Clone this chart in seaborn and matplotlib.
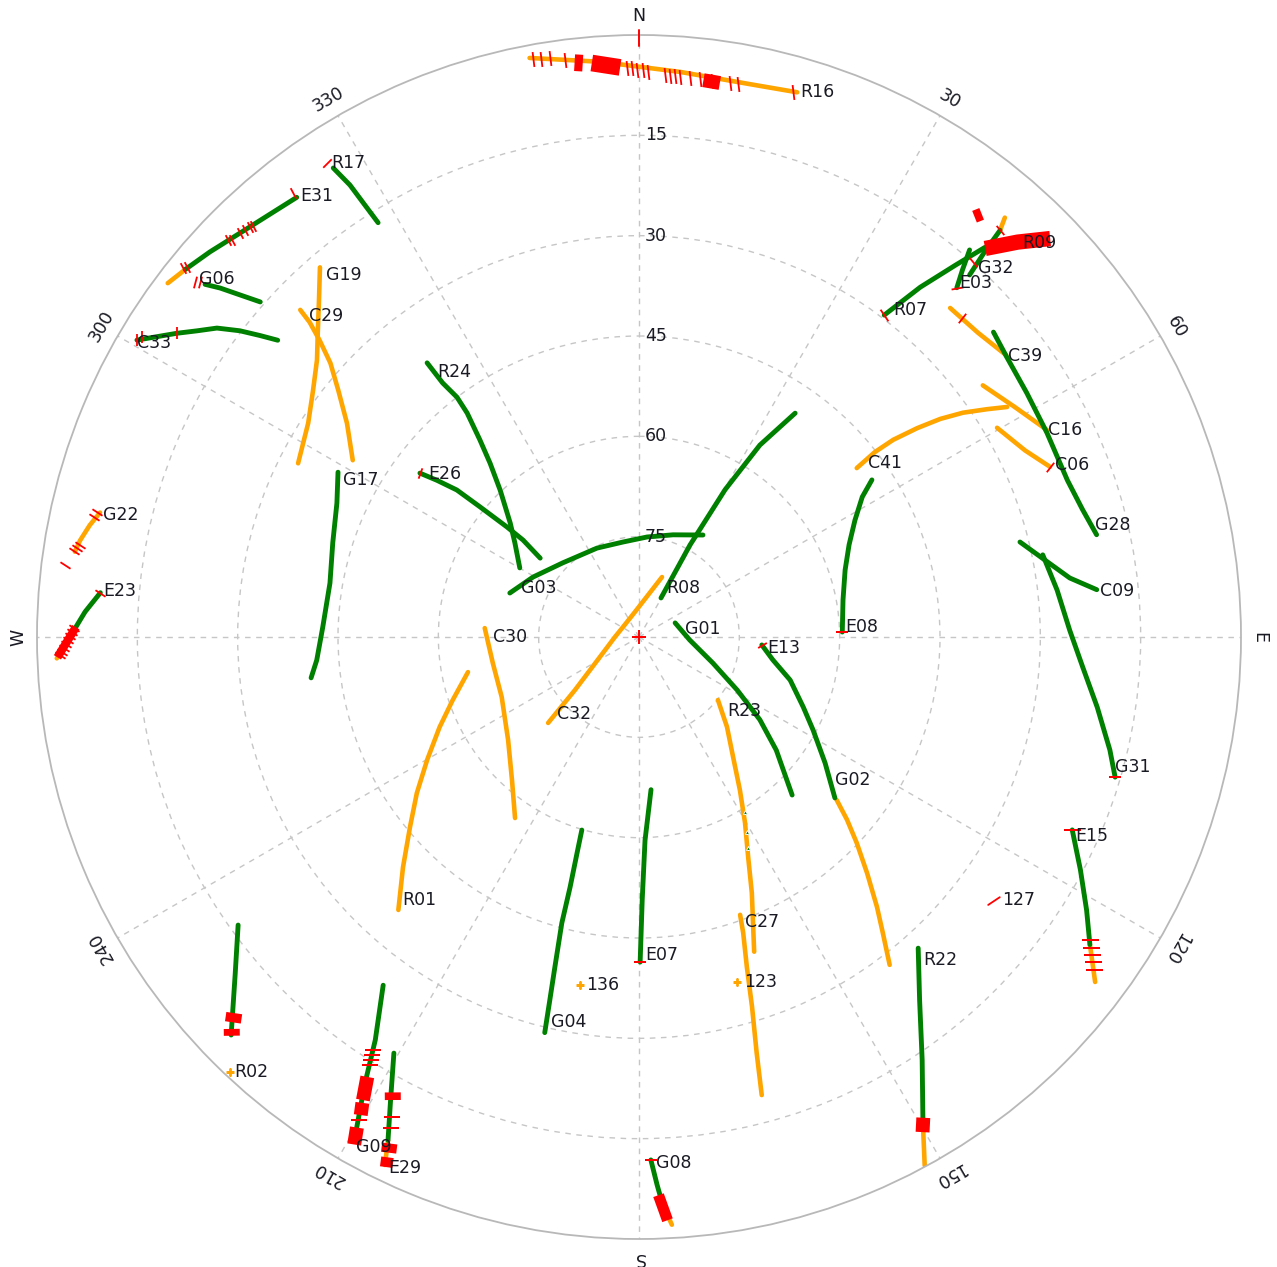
import numpy as np
import pandas as pd
import matplotlib
matplotlib.use("Agg")
import matplotlib.pyplot as plt
from matplotlib.markers import MarkerStyle
from matplotlib.transforms import Affine2D
import seaborn as sns

# ---------------------------------------------------------------------------
# Satellite tracks: azimuth in degrees (clockwise from north, may run past
# 360 or below 0 so a track stays continuous) and elevation in degrees.
# ---------------------------------------------------------------------------

# -- tracked continuously (green) --
R07_AZ = [37.3, 38.8, 40.4, 41.6]
R07_EL = [29.5, 22.9, 17.0, 12.1]
E03_AZ = [42.3, 41.4, 40.5]
E03_EL = [19.4, 16.9, 13.9]
G32_AZ = [42.4, 41.9, 41.6]
G32_EL = [16.7, 12.6, 8.7]
G28_AZ = [49.3, 52.7, 57.8, 63.4, 69.9, 74.0, 77.4]
G28_EL = [20.1, 20.9, 21.5, 21.8, 21.8, 21.0, 19.9]
C09_AZ = [76.0, 79.3, 82.2, 84.1]
C09_EL = [31.3, 28.2, 25.0, 21.2]
G31_AZ = [78.5, 83.6, 89.1, 93.9, 98.7, 103.5, 106.4]
G31_EL = [28.4, 27.1, 25.6, 23.5, 20.7, 17.6, 15.8]
E08_AZ = [56.0, 57.9, 61.6, 66.3, 72.0, 79.7, 88.6]
E08_EL = [48.0, 50.6, 53.3, 55.7, 57.6, 59.0, 59.6]
R08_AZ = [34.9, 32.2, 30.3, 29.0, 29.4]
R08_EL = [49.2, 56.1, 64.5, 74.3, 83.3]
G03_AZ = [-71.2, -60.5, -45.8, -25.3, -9.6, 4.6, 18.4, 32.1]
G03_EL = [69.6, 71.8, 74.1, 75.3, 75.6, 75.0, 73.9, 72.0]
R24_AZ = [-37.7, -37.7, -37.2, -37.5, -38.9, -40.6, -43.4, -48.5, -52.8, -59.9]
R24_EL = [38.2, 42.0, 45.0, 47.8, 52.1, 55.8, 59.8, 64.3, 66.7, 69.4]
E26_AZ = [-53.2, -52.2, -51.1, -50.7, -50.2, -50.1, -51.4]
E26_EL = [49.1, 51.8, 55.0, 59.3, 64.3, 67.4, 71.1]
G17_AZ = [-61.3, -66.1, -72.9, -80.1, -88.2, -94.1, -97.1]
G17_EL = [38.7, 40.6, 42.1, 43.1, 42.7, 41.7, 40.6]
G06_AZ = [-50.9, -50.2, -49.4, -48.5]
G06_EL = [6.4, 8.5, 11.4, 14.4]
E31_AZ = [-37.9, -41.1, -44.7, -48.1, -51.0]
E31_EL = [6.7, 6.1, 5.1, 3.8, 2.7]
R17_AZ = [-33.1, -32.6, -32.4, -32.2]
R17_EL = [6.3, 9.8, 13.5, 16.8]
C33_AZ = [-59.4, -56.7, -55.3, -53.8, -52.5, -51.5, -50.6]
C33_EL = [2.8, 7.3, 9.6, 11.8, 14.8, 17.6, 20.1]
E23_AZ = [-85.3, -87.4, -89.1, -90.8]
E23_EL = [9.2, 7.1, 5.7, 4.2]
R02_AZ = [234.3, 230.1, 225.7]
R02_EL = [16.2, 11.3, 4.8]
G09_AZ = [216.3, 213.2, 211.5, 209.5]
G09_EL = [25.4, 18.0, 11.5, 3.6]
E29_AZ = [210.5, 208.2, 206.5]
E29_EL = [17.8, 11.4, 5.9]
G04_AZ = [196.5, 196.0, 195.4, 195.1, 194.3, 193.8, 193.4]
G04_EL = [59.9, 56.4, 51.2, 45.7, 39.1, 34.1, 29.2]
E07_AZ = [175.5, 178.3, 179.3, 179.8]
E07_EL = [67.1, 59.6, 50.7, 41.4]
G01_AZ = [68.7, 93.4, 109.4, 118.4, 124.4, 129.5, 135.9]
G01_EL = [84.2, 82.4, 78.3, 73.3, 68.1, 63.4, 57.1]
E13_AZ = [93.7, 99.7, 105.9, 113.1, 118.1, 124.1, 129.4]
E13_EL = [71.6, 69.7, 66.5, 63.3, 60.5, 56.4, 52.1]
R22_AZ = [138.1, 142.3, 146.2, 149.8]
R22_EL = [27.5, 21.4, 13.9, 5.6]
E15_AZ = [114.0, 117.8, 121.4, 124.3]
E15_EL = [19.1, 15.4, 11.6, 8.4]
G08_AZ = [178.7, 178.1, 177.6]
G08_EL = [11.8, 8.0, 5.0]

# -- degraded tracking (orange) --
R16_AZ = [-10.7, -3.9, 4.2, 11.4, 16.2]
R16_EL = [1.9, 3.8, 5.3, 5.7, 5.2]
C39_AZ = [43.4, 48.1, 52.5]
C39_EL = [22.3, 21.9, 20.8]
C16_AZ = [53.8, 58.6, 63.1]
C16_EL = [26.3, 24.1, 21.6]
C41_AZ = [52.2, 51.9, 52.2, 53.1, 54.1, 55.3, 56.8, 58.0]
C41_EL = [48.8, 45.2, 41.9, 38.0, 34.4, 31.1, 27.8, 25.1]
C06_AZ = [59.7, 64.2, 67.5]
C06_EL = [28.0, 25.9, 23.5]
G19_AZ = [-40.8, -43.5, -46.6, -49.3, -52.9, -57.1, -63.0]
G19_EL = [17.0, 20.5, 23.9, 26.5, 28.9, 31.1, 32.8]
C29_AZ = [-46.0, -46.3, -47.1, -48.4, -50.6, -53.8, -58.3]
C29_EL = [19.6, 21.9, 24.8, 28.3, 31.8, 35.9, 39.7]
G22_AZ = [-77.0, -78.5, -80.2, -81.4]
G22_EL = [7.3, 6.2, 5.2, 4.7]
C27_AZ = [160.0, 160.6, 161.9, 163.0, 164.2, 165.0]
C27_EL = [45.8, 43.1, 38.1, 32.2, 25.4, 19.1]
R23_AZ = [128.6, 135.6, 141.9, 146.6, 150.3, 153.6, 156.2, 159.9]
R23_EL = [74.9, 71.2, 67.2, 62.6, 58.0, 53.3, 48.2, 39.9]
G02_AZ = [129.5, 131.3, 133.4, 136.0, 138.6, 140.5, 142.6]
G02_EL = [51.7, 48.6, 45.2, 40.9, 36.2, 32.7, 28.3]
C32_AZ = [226.6, 230.4, 249.1, 270.0, 307.7, 350.9, 381.0]
C32_EL = [71.3, 77.6, 84.6, 86.4, 87.2, 86.2, 80.4]
C30_AZ = [273.3, 259.9, 246.4, 231.8, 221.6, 214.4]
C30_EL = [66.9, 67.8, 67.6, 65.1, 61.4, 57.2]
R01_AZ = [258.4, 251.3, 245.7, 239.9, 234.9, 230.3, 225.7, 221.4]
R01_EL = [63.9, 60.6, 57.3, 53.4, 49.4, 45.5, 40.7, 35.6]

# orange ends of otherwise green passes
G32_TIP_AZ = [41.6, 41.1]
G32_TIP_EL = [8.7, 6.8]
E31_TAIL_AZ = [-51.0, -53.1]
E31_TAIL_EL = [2.7, 1.9]
E23_TAIL_AZ = [-90.8, -92.1]
E23_TAIL_EL = [4.2, 2.9]
E29_TAIL_AZ = [206.5, 205.7]
E29_TAIL_EL = [5.9, 2.4]
R22_TAIL_AZ = [149.8, 151.6]
R22_TAIL_EL = [5.6, 0.2]
E15_TAIL_AZ = [124.3, 127.1]
E15_TAIL_EL = [8.4, 4.5]
G08_TAIL_AZ = [177.6, 176.8]
G08_TAIL_EL = [5.0, 2.0]

# single epochs
SINGLE_NAMES = ["136", "123", "R02"]
SINGLE_AZ = [189.6, 164.1, 223.2]
SINGLE_EL = [37.2, 36.4, 0.7]

# ---------------------------------------------------------------------------
# Cycle slips (red): isolated slip ticks and dense slip clusters
# ---------------------------------------------------------------------------
R16_SLIP_AZ = [-10.4, -9.6, -8.7, -7.3, -6.1, -3.6, -2.6, -1.2, -0.7, -0.2, 0.4,
               0.9, 2.7, 3.2, 3.7, 4.2, 5.2, 6.2, 7.5, 9.3, 10.2, 15.8]
R16_SLIP_EL = [2.2, 2.3, 2.4, 3.0, 3.6, 4.3, 4.5, 4.9, 5.0, 5.2, 5.3,
               5.5, 5.9, 6.0, 6.0, 6.1, 6.1, 6.1, 6.2, 6.1, 6.0, 5.3]
E31_SLIP_AZ = [-37.9, -43.2, -43.5, -44.1, -44.7, -45.7, -46.0, -50.7, -51.0]
E31_SLIP_EL = [5.8, 5.7, 5.5, 5.3, 5.1, 5.0, 4.6, 2.7, 2.3]
G22_SLIP_AZ = [-77.0, -77.6, -80.7, -81.0, -81.3, -82.9]
G22_SLIP_EL = [6.8, 6.5, 5.3, 4.9, 4.6, 3.5]
E23_SLIP_AZ = [-85.3, -89.1, -89.5, -89.9, -90.3, -90.7, -91.1, -91.5, -91.8]
E23_SLIP_EL = [9.2, 5.5, 5.2, 4.9, 4.6, 4.3, 4.0, 3.7, 3.4]
E15_SLIP_AZ = [114.0, 123.9, 124.5, 125.1, 125.6, 126.2]
E15_SLIP_EL = [19.1, 8.8, 8.0, 7.3, 6.5, 5.7]
G09_SLIP_AZ = [212.8, 212.6, 212.4, 212.2, 210.1]
G09_SLIP_EL = [16.5, 15.8, 15.1, 14.4, 6.5]
E29_SLIP_AZ = [207.2, 206.8]
E29_SLIP_EL = [9.3, 7.8]
C33_SLIP_AZ = [-59.4, -58.9, -56.7]
C33_SLIP_EL = [2.8, 3.3, 7.3]
G06_SLIP_AZ = [-51.4, -51.0]
G06_SLIP_EL = [5.0, 5.6]
G32_SLIP_AZ = [41.7, 41.6]
G32_SLIP_EL = [14.9, 8.7]
START_SLIP_AZ = [37.3, 42.3, 45.4, 67.5, -53.2, 93.7, -33.4]
START_SLIP_EL = [29.5, 19.4, 22.1, 23.5, 49.1, 71.6, 5.2]
FLAT_SLIP_AZ = [106.4, 88.6, 179.8, 178.7]
FLAT_SLIP_EL = [15.8, 59.6, 41.4, 11.8]

R16_BLK1_AZ, R16_BLK1_EL = [-6.4, -5.6], [3.6, 3.8]
R16_BLK2_AZ, R16_BLK2_EL = [-4.7, -1.9], [3.9, 4.8]
R16_BLK3_AZ, R16_BLK3_EL = [6.6, 8.3], [6.2, 6.3]
R09_AZ, R09_EL = [41.7, 43.8, 45.9], [12.2, 8.2, 4.4]
G32_BLOB_AZ, G32_BLOB_EL = [38.6, 39.0], [9.6, 8.6]
R02_BLK1_AZ, R02_BLK1_EL = [227.1, 226.5], [7.4, 6.3]
R02_BLK2_AZ, R02_BLK2_EL = [226.1, 225.6], [5.5, 4.8]
G09_BLK1_AZ, G09_BLK1_EL = [211.7, 210.8], [12.7, 9.4]
G09_BLK2_AZ, G09_BLK2_EL = [210.7, 210.2], [9.0, 7.3]
G09_BLK3_AZ, G09_BLK3_EL = [209.9, 209.3], [5.4, 3.0]
E29_BLK1_AZ, E29_BLK1_EL = [208.4, 208.0], [12.6, 11.6]
E29_BLK2_AZ, E29_BLK2_EL = [206.2, 205.9], [5.6, 4.3]
E29_BLK3_AZ, E29_BLK3_EL = [205.8, 205.5], [3.6, 2.2]
R22_BLK_AZ, R22_BLK_EL = [149.4, 150.2], [6.5, 4.7]
G08_BLK_AZ, G08_BLK_EL = [178.0, 177.2], [6.5, 2.7]
E23_BLK_AZ, E23_BLK_EL = [-89.0, -92.0], [5.8, 3.0]
S127_AZ, S127_EL = [127.5, 125.8], [24.2, 23.5]

# small marks on the R23 pass
R23_MARK_AZ = [148.8, 151.0, 152.7]
R23_MARK_EL = [59.4, 56.7, 54.5]

# ---------------------------------------------------------------------------
# Labels: text, anchor azimuth/elevation, offset in pixels (right, up)
# ---------------------------------------------------------------------------
LABEL_TEXT = ["R16", "R17", "E31", "G06", "G19", "C29", "C33", "R24", "E26", "G17",
              "G22", "E23", "G03", "C30", "R08", "G01", "E13", "R23", "C32", "G02",
              "R01", "E07", "C27", "136", "123", "G04", "R22", "E15", "127", "G31",
              "E08", "C41", "C06", "C16", "C39", "G28", "C09", "R07", "E03", "G32",
              "R09", "G09", "E29", "R02", "G08"]
LABEL_AZ = [16.2, -33.1, -37.9, -50.9, -40.8, -46.0, -59.4, -37.7, -53.2, -61.3,
            -77.0, -85.3, -71.2, 273.3, 29.4, 68.7, 93.7, 128.6, 226.6, 129.5,
            221.4, 179.8, 160.0, 189.6, 164.1, 193.4, 138.1, 114.0, 125.8, 106.4,
            88.6, 52.2, 67.5, 63.1, 52.5, 77.4, 84.1, 37.3, 42.3, 42.4,
            43.8, 209.5, 205.7, 223.2, 178.7]
LABEL_EL = [5.2, 6.3, 6.7, 6.4, 17.0, 19.6, 2.8, 38.2, 49.1, 38.7,
            7.3, 9.2, 69.6, 66.9, 83.3, 84.2, 71.6, 74.9, 71.3, 51.7,
            35.6, 41.4, 45.8, 37.2, 36.4, 29.2, 27.5, 19.1, 23.5, 15.8,
            59.6, 48.8, 23.5, 21.6, 20.8, 19.9, 21.2, 29.5, 19.4, 16.7,
            8.2, 3.6, 2.4, 0.7, 11.8]
LABEL_DX = [3, -2, 4, -6, 6, 9, 0, 10, 8, 5,
            3, 3, 11, 8, 5, 10, 5, 9, 9, -2,
            4, 5, 5, 6, 7, 6, 5, 3, 2, 0,
            3, 11, 5, 1, 2, -2, 3, 9, 2, 8,
            5, 2, 3, 4, 5]
LABEL_DY = [0, 5, 1, 5, -8, -6, -3, -9, -1, -8,
            -2, 2, 5, -9, 10, -6, -3, -11, 9, 20,
            10, 7, -7, 0, 0, 11, -12, -6, -3, 10,
            5, 5, 2, 0, -1, 10, -1, 5, 5, 7,
            -1, -7, -3, 0, -3]

RING_ELEVATIONS = [15, 30, 45, 60, 75]
COMPASS_AZ = [0, 30, 60, 90, 120, 150, 180, 210, 240, 270, 300, 330]
COMPASS_TEXT = ["N", "30", "60", "E", "120", "150", "S", "210", "240", "W", "300", "330"]

# ---------------------------------------------------------------------------
GREEN = "#008000"
ORANGE = "#ffa500"
RED = "#ff0000"
TEXT = "#1a1a24"
GRID = "#c6c6c6"

sns.set_theme(style="white")
plt.rcParams["font.family"] = ["DejaVu Sans"]

W, H, DPI = 1277, 1267, 100
fig = plt.figure(figsize=(W / DPI, H / DPI), dpi=DPI, facecolor="white")
cx, cy, rad = 639, 637, 602
ax = fig.add_axes([(cx - rad) / W, (H - cy - rad) / H, 2 * rad / W, 2 * rad / H],
                  projection="polar")
ax.set_theta_zero_location("N")
ax.set_theta_direction(-1)
ax.set_facecolor("white")


def polar_df(az, el):
    return pd.DataFrame({"theta": np.deg2rad(np.asarray(az, float)),
                         "zen": 90.0 - np.asarray(el, float)})


def draw_path(az, el, color, width, z=2.0, cap="round"):
    sns.lineplot(data=polar_df(az, el), x="theta", y="zen", sort=False,
                 estimator=None, color=color, linewidth=width, ax=ax,
                 legend=False, zorder=z, solid_capstyle=cap,
                 solid_joinstyle="round")


def draw_ticks(az, el, angle, length_px, color=RED, lw=1.3, z=4.0):
    mk = MarkerStyle("_", transform=Affine2D().rotate_deg(angle))
    sns.scatterplot(data=polar_df(az, el), x="theta", y="zen", marker=mk,
                    s=(length_px * 0.72) ** 2, color=color, linewidth=lw,
                    ax=ax, legend=False, zorder=z)


green_tracks = [
    (R07_AZ, R07_EL), (E03_AZ, E03_EL), (G32_AZ, G32_EL), (G28_AZ, G28_EL),
    (C09_AZ, C09_EL), (G31_AZ, G31_EL), (E08_AZ, E08_EL), (R08_AZ, R08_EL),
    (G03_AZ, G03_EL), (R24_AZ, R24_EL), (E26_AZ, E26_EL), (G17_AZ, G17_EL),
    (G06_AZ, G06_EL), (E31_AZ, E31_EL), (R17_AZ, R17_EL), (C33_AZ, C33_EL),
    (E23_AZ, E23_EL), (R02_AZ, R02_EL), (G09_AZ, G09_EL), (E29_AZ, E29_EL),
    (G04_AZ, G04_EL), (E07_AZ, E07_EL), (G01_AZ, G01_EL), (E13_AZ, E13_EL),
    (R22_AZ, R22_EL), (E15_AZ, E15_EL), (G08_AZ, G08_EL),
]
orange_tracks = [
    (R16_AZ, R16_EL), (C39_AZ, C39_EL), (C16_AZ, C16_EL), (C41_AZ, C41_EL),
    (C06_AZ, C06_EL), (G19_AZ, G19_EL), (C29_AZ, C29_EL), (G22_AZ, G22_EL),
    (C27_AZ, C27_EL), (R23_AZ, R23_EL), (G02_AZ, G02_EL), (C32_AZ, C32_EL),
    (C30_AZ, C30_EL), (R01_AZ, R01_EL),
    (G32_TIP_AZ, G32_TIP_EL), (E31_TAIL_AZ, E31_TAIL_EL), (E23_TAIL_AZ, E23_TAIL_EL),
    (E29_TAIL_AZ, E29_TAIL_EL), (R22_TAIL_AZ, R22_TAIL_EL), (E15_TAIL_AZ, E15_TAIL_EL),
    (G08_TAIL_AZ, G08_TAIL_EL),
]

for az, el in orange_tracks:
    draw_path(az, el, ORANGE, 3.3, z=2.0)
for az, el in green_tracks:
    draw_path(az, el, GREEN, 3.5, z=2.2)

# dense slip clusters (thick red bands)
blocks = [
    (R16_BLK1_AZ, R16_BLK1_EL, 12), (R16_BLK2_AZ, R16_BLK2_EL, 12),
    (R16_BLK3_AZ, R16_BLK3_EL, 10), (R09_AZ, R09_EL, 11),
    (G32_BLOB_AZ, G32_BLOB_EL, 9), (R02_BLK1_AZ, R02_BLK1_EL, 11.5),
    (R02_BLK2_AZ, R02_BLK2_EL, 11.5), (G09_BLK1_AZ, G09_BLK1_EL, 10),
    (G09_BLK2_AZ, G09_BLK2_EL, 10), (G09_BLK3_AZ, G09_BLK3_EL, 10),
    (E29_BLK1_AZ, E29_BLK1_EL, 11.5), (E29_BLK2_AZ, E29_BLK2_EL, 11),
    (E29_BLK3_AZ, E29_BLK3_EL, 9), (R22_BLK_AZ, R22_BLK_EL, 10),
    (G08_BLK_AZ, G08_BLK_EL, 8), (E23_BLK_AZ, E23_BLK_EL, 6),
]
for az, el, w in blocks:
    draw_path(az, el, RED, w, z=3.0, cap="butt")
draw_path(S127_AZ, S127_EL, RED, 1.3, z=3.0)

# isolated slip ticks, drawn across the pass
draw_ticks(R16_SLIP_AZ, R16_SLIP_EL, 97, 15)
draw_ticks(E31_SLIP_AZ, E31_SLIP_EL, 118, 12)
draw_ticks(G22_SLIP_AZ, G22_SLIP_EL, -33, 12)
draw_ticks(E23_SLIP_AZ, E23_SLIP_EL, -33, 12)
draw_ticks(E15_SLIP_AZ, E15_SLIP_EL, 0, 17)
draw_ticks(G09_SLIP_AZ, G09_SLIP_EL, 0, 16)
draw_ticks(E29_SLIP_AZ, E29_SLIP_EL, 0, 16)
draw_ticks(C33_SLIP_AZ, C33_SLIP_EL, 90, 12)
draw_ticks(G06_SLIP_AZ, G06_SLIP_EL, 75, 12)
draw_ticks(G32_SLIP_AZ, G32_SLIP_EL, 130, 12)
draw_ticks(START_SLIP_AZ[:1], START_SLIP_EL[:1], 124, 14)
draw_ticks(START_SLIP_AZ[1:2], START_SLIP_EL[1:2], 10, 12)
draw_ticks(START_SLIP_AZ[2:4], START_SLIP_EL[2:4], 52, 12)
draw_ticks(START_SLIP_AZ[4:5], START_SLIP_EL[4:5], 70, 11)
draw_ticks(START_SLIP_AZ[5:6], START_SLIP_EL[5:6], 30, 10)
draw_ticks(START_SLIP_AZ[6:7], START_SLIP_EL[6:7], 45, 12)
draw_ticks(FLAT_SLIP_AZ, FLAT_SLIP_EL, 0, 12)

# single-epoch observations and small marks
sns.scatterplot(data=polar_df(SINGLE_AZ, SINGLE_EL), x="theta", y="zen",
                marker="+", s=36, color=ORANGE, linewidth=2.0, ax=ax,
                legend=False, zorder=3)
sns.scatterplot(data=polar_df(R23_MARK_AZ, R23_MARK_EL), x="theta", y="zen",
                marker="^", s=8, color=GREEN, linewidth=0.6, ax=ax,
                legend=False, zorder=3)

# zenith cross and north tick
sns.scatterplot(x=[0.0], y=[0.0], marker="+", s=90, color=RED, linewidth=1.4,
                ax=ax, legend=False, zorder=5)
ax.plot([0, 0], [88.4, 90.8], color=RED, lw=1.4, clip_on=False, zorder=5)

# grid
ax.set_ylim(0, 90)
ax.set_thetalim(0, 2 * np.pi)
ax.set_rgrids([90 - e for e in RING_ELEVATIONS], labels=[])
ax.set_thetagrids(COMPASS_AZ, labels=[])
ax.grid(True, color=GRID, linestyle=(0, (4, 4)), linewidth=1.0)
ax.spines["polar"].set_color("#b8b8b8")
ax.spines["polar"].set_linewidth(1.3)
ax.set_xlabel("")
ax.set_ylabel("")
ax.tick_params(length=0, pad=0)

# elevation ring labels along the north line
for e in RING_ELEVATIONS:
    ax.annotate(str(e), xy=(0, 90 - e), xytext=(6, 0), textcoords="offset pixels",
                ha="left", va="center", fontsize=12.5, color=TEXT, zorder=6)

# compass labels around the horizon
for a, t in zip(COMPASS_AZ, COMPASS_TEXT):
    ax.text(np.deg2rad(a), 92.8, t, rotation=-a, rotation_mode="anchor",
            ha="center", va="center", fontsize=12.5, color=TEXT, clip_on=False)

# satellite labels
for t, a, e, dx, dy in zip(LABEL_TEXT, LABEL_AZ, LABEL_EL, LABEL_DX, LABEL_DY):
    ax.annotate(t, xy=(np.deg2rad(a), 90 - e), xytext=(dx, dy),
                textcoords="offset pixels", ha="left", va="center",
                fontsize=12.5, color=TEXT, zorder=6)

fig.savefig("out.png", dpi=DPI, facecolor="white")
